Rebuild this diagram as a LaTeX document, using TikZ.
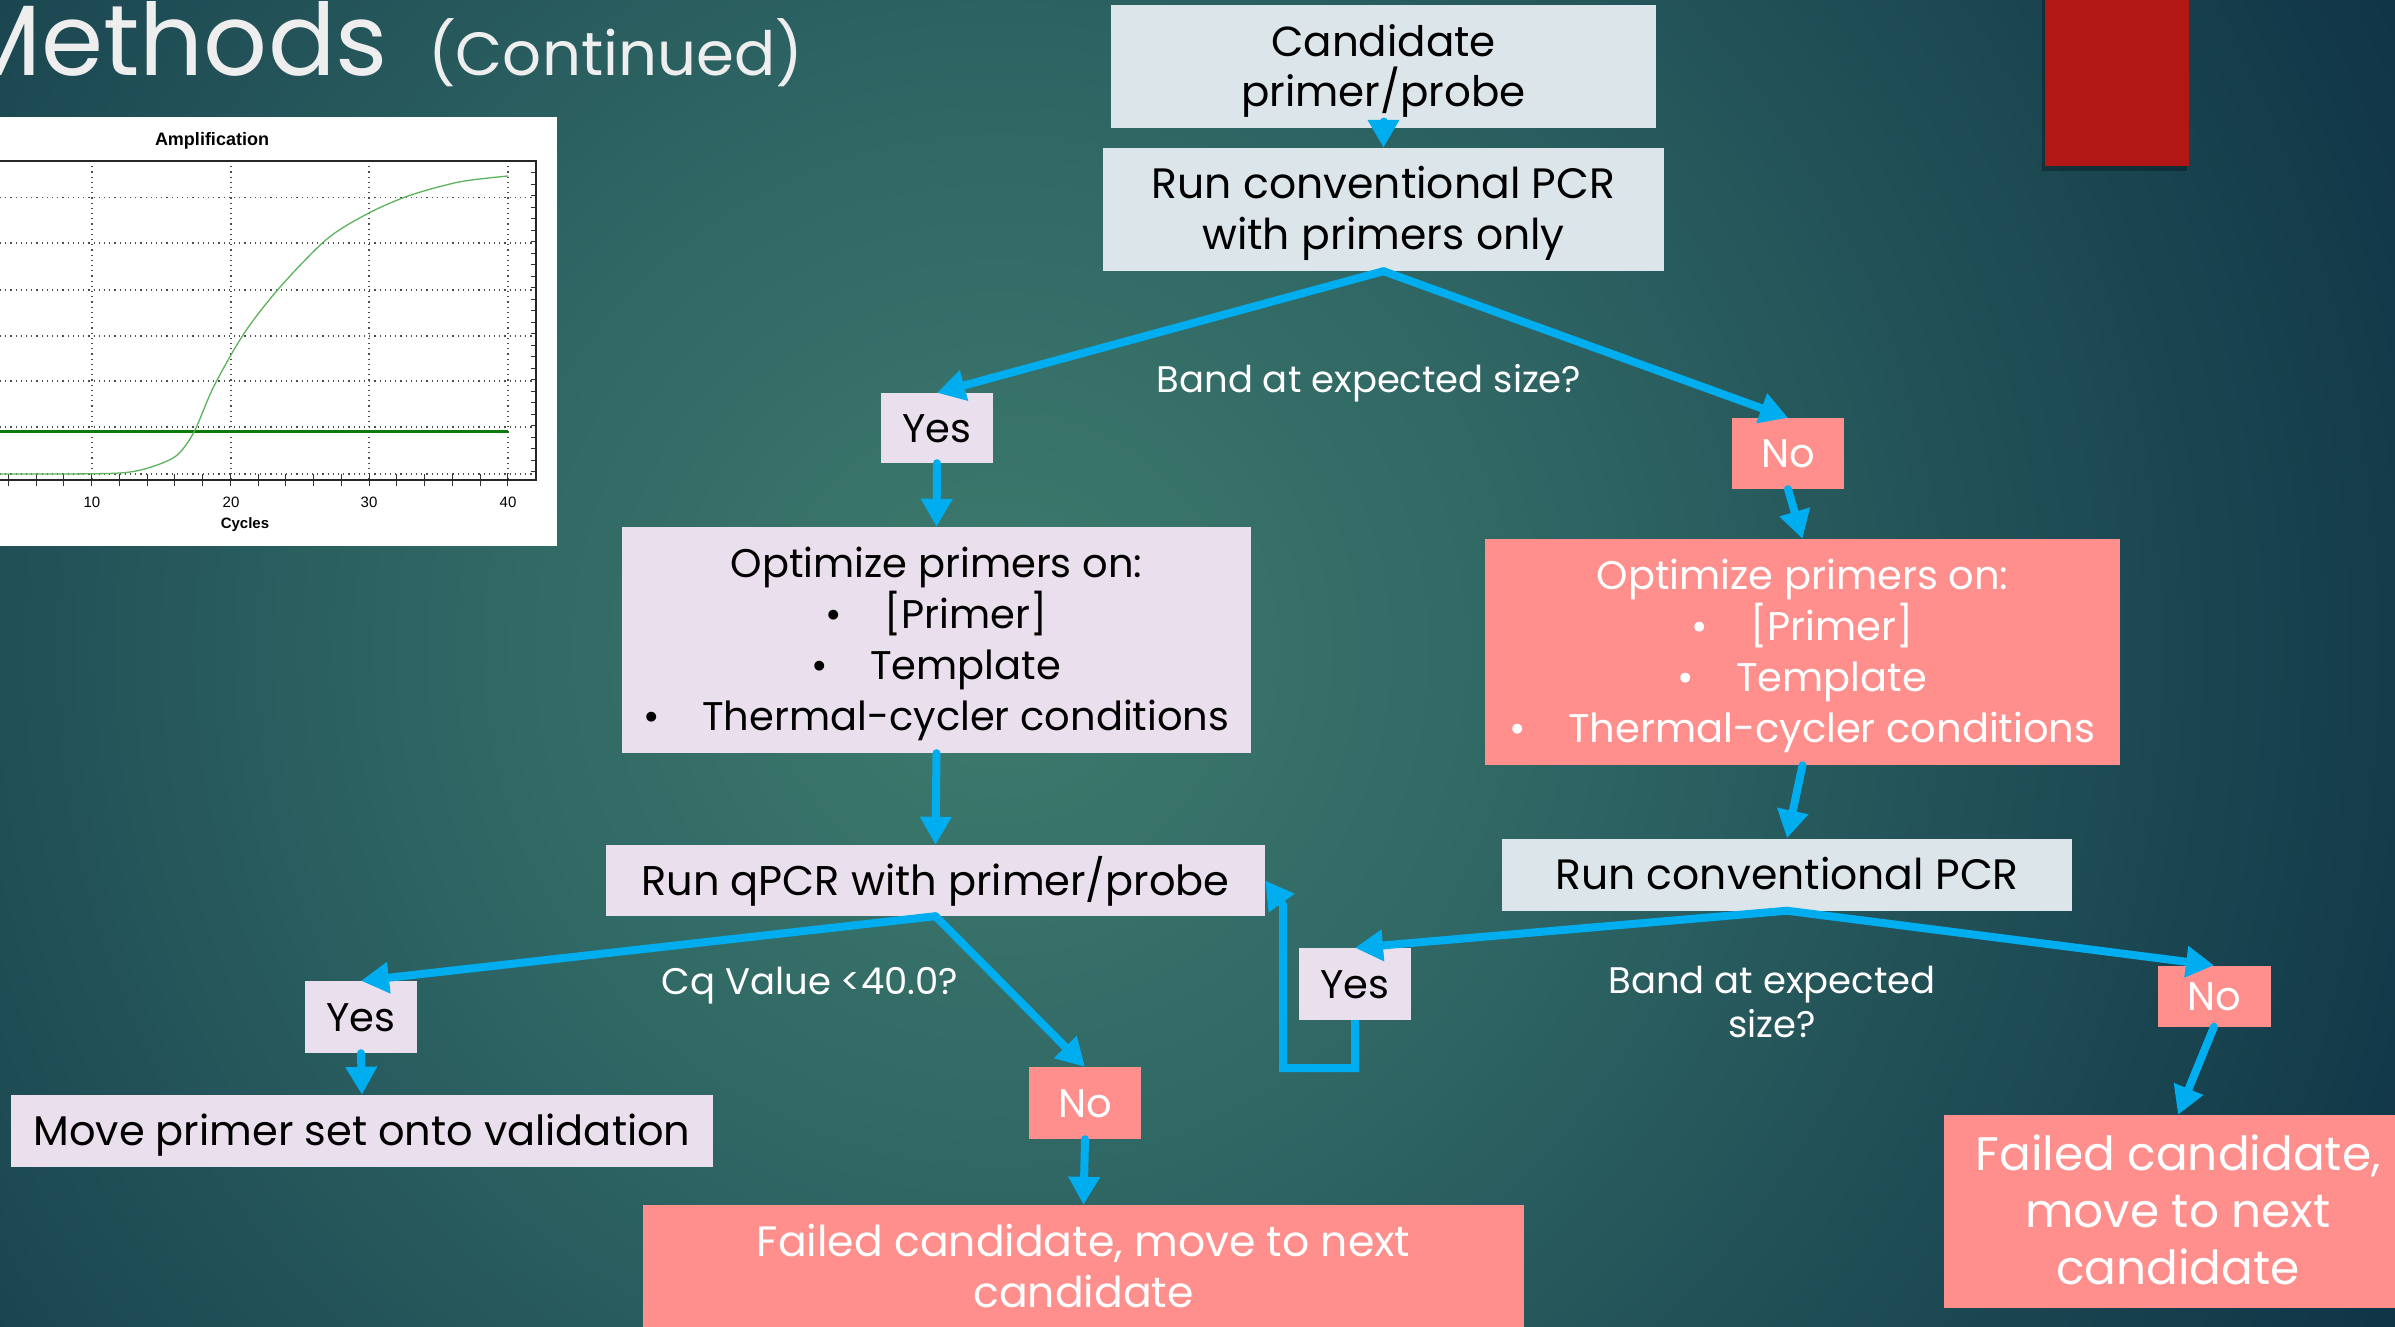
\documentclass[tikz,border=0pt]{standalone}
\usepackage{fontspec}
\setmainfont{Poppins}
\newfontfamily\arialfont{Liberation Sans}
\usetikzlibrary{arrows.meta,calc}
\definecolor{bgin}{HTML}{3E7B6D}
\definecolor{bgmid}{HTML}{2F6664}
\definecolor{bgout}{HTML}{0F3446}
\definecolor{arrowc}{HTML}{00AEEF}
\definecolor{lav}{HTML}{EADFEC}
\definecolor{gryb}{HTML}{DCE6EA}
\definecolor{salm}{HTML}{FF8F8C}
\definecolor{redbox}{HTML}{B11715}
\definecolor{titlec}{HTML}{EEEEEE}
\definecolor{thrgreen}{HTML}{0A7A0A}
\definecolor{curvegreen}{HTML}{5DB35D}
\pgfdeclareradialshading{bgshade}{\pgfpoint{0bp}{0bp}}{color(0bp)=(bgin); color(9bp)=(bgmid); color(25bp)=(bgout); color(50bp)=(bgout)}
\newcommand{\tp}{\rule{0pt}{1em}}
\newcommand{\bt}{\rule[-0.3em]{0pt}{0pt}}
\begin{document}
\begin{tikzpicture}[x=1pt,y=-1pt,
  box/.style={rectangle, inner sep=0pt, align=center, text=black},
  lavbox/.style={box, fill=lav},
  grybox/.style={box, fill=gryb},
  salbox/.style={box, fill=salm, text=white},
  fA/.style={font=\fontsize{40}{51}\selectfont},
  fB/.style={font=\fontsize{42.5}{51}\selectfont},
  fY/.style={font=\fontsize{40}{51}\selectfont},
  lbl/.style={text=white, align=center, inner sep=0pt, font=\fontsize{37}{44}\selectfont},
  arr/.style={draw=arrowc, line width=8pt, line cap=round, -{Triangle[length=28pt,width=30pt]}},
  ctick/.style={font=\arialfont\fontsize{15}{18}\selectfont, inner sep=0pt}
]
\useasboundingbox (0,0) rectangle (2395,1326);
\begin{scope}
\clip (0,0) rectangle (2395,1326);
\fill[bgout] (0,0) rectangle (2395,1326);
\shade[shading=bgshade] (1000,650) circle[radius=1550pt];

% title
\node[anchor=base east, text=titlec, inner sep=0pt, font=\fontsize{100}{110}\selectfont] (titleM) at (388,75) {Methods};
\node[anchor=base west, text=titlec, inner sep=0pt, font=\fontsize{61}{64}\selectfont] (titleC) at (428,75) {(Continued)};

% red rectangle
\fill[black, opacity=0.3] (2042,0) rectangle (2187,171);
\fill[redbox] (2045,0) rectangle (2189,166);

% chart
\fill[white] (0,117) rectangle (557,546);
\foreach \gy in {197.5,243,290,336,381,427,474}
  \draw[black!70, line width=1.2pt, dash pattern=on 1.2pt off 4pt] (0,\gy) -- (536,\gy);
\foreach \gx in {92,231,369,508}
  \draw[black!70, line width=1.2pt, dash pattern=on 1.2pt off 4pt] (\gx,161) -- (\gx,480);
\foreach \k in {0,...,20}
  \draw[black!80, line width=1pt] ({-47+27.74*\k},474) -- ({-47+27.74*\k},486);
\foreach \k in {0,...,27}
  \draw[black!80, line width=1pt] (531,{161+11.5*\k}) -- (536,{161+11.5*\k});
\draw[black!85, line width=1.3pt] (0,161) -- (536,161) -- (536,480) -- (0,480);
\draw[thrgreen, line width=3pt] (0,431) -- (508,431);
\draw[curvegreen, line width=1.3pt] plot[smooth, tension=0.5] coordinates {(0,474) (60,474) (120,473) (148,468) (176,456) (194,432) (214,386) (245,332) (281,286) (327,239) (367,214) (408,196) (459,182) (508,176)};
\node[ctick] (t10) at (92,502) {10};
\node[ctick] (t20) at (231,502) {20};
\node[ctick] (t30) at (369,502) {30};
\node[ctick] (t40) at (508,502) {40};
\node[ctick, font=\arialfont\bfseries\fontsize{15}{18}\selectfont] (cyc) at (245,525) {Cycles};
\node[ctick, font=\arialfont\bfseries\fontsize{18}{20}\selectfont] (amp) at (212,141) {Amplification};

% flowchart nodes
\node[grybox, minimum width=545pt, minimum height=123pt, font=\fontsize{42}{50}\selectfont] (cand) at (1383.5,66.5) {\tp Candidate\\primer/probe\bt};
\node[grybox, fB, minimum width=561pt, minimum height=123pt] (run1) at (1383.5,209.5) {\tp Run conventional PCR\\with primers only\bt};
\node[lavbox, fY, minimum width=112pt, minimum height=70pt] (yes1) at (937,428) {\tp Yes\bt};
\node[salbox, fY, minimum width=112pt, minimum height=71pt] (no1) at (1788,453.5) {\tp No\bt};
\node[lavbox, fA, minimum width=629pt, minimum height=226pt] (opt1) at (936.5,640) {\tp Optimize primers on:\\\textbullet\hspace{42pt}[Primer]\\\textbullet\hspace{42pt}Template\\\textbullet\hspace{42pt}Thermal-cycler conditions\bt};
\node[salbox, fA, minimum width=635pt, minimum height=226pt] (opt2) at (1802.5,652) {\tp Optimize primers on:\\\textbullet\hspace{42pt}[Primer]\\\textbullet\hspace{42pt}Template\\\textbullet\hspace{42pt}Thermal-cycler conditions\bt};
\node[lavbox, font=\fontsize{41.5}{51}\selectfont, minimum width=659pt, minimum height=71pt] (qpcr) at (935.5,880.5) {\tp Run qPCR with primer/probe\bt};
\node[grybox, fB, minimum width=570pt, minimum height=72pt] (run2) at (1787,874.5) {\tp Run conventional PCR\bt};
\node[lavbox, fY, minimum width=112pt, minimum height=72pt] (yes2) at (361,1017) {\tp Yes\bt};
\node[salbox, fY, minimum width=112pt, minimum height=72pt] (no2) at (1085,1103) {\tp No\bt};
\node[lavbox, font=\fontsize{41.5}{51}\selectfont, minimum width=702pt, minimum height=72pt] (move) at (362,1131) {\tp Move primer set onto validation\bt};
\node[salbox, fB, minimum width=881pt, minimum height=124pt] (fail) at (1083.5,1267) {\tp Failed candidate, move to next\\candidate\bt};
\node[lavbox, fY, minimum width=112pt, minimum height=72pt] (yes3) at (1355,984) {\tp Yes\bt};
\node[salbox, fY, minimum width=113pt, minimum height=61pt] (no3) at (2214,996) {\tp No\bt};
\node[salbox, minimum width=468pt, minimum height=193pt, font=\fontsize{47}{57}\selectfont] (failR) at (2178,1211.5) {\tp Failed candidate,\\move to next\\candidate\bt};

% labels
\node[lbl] (lab1) at (1369,383) {Band at expected size?};
\node[lbl] (lab2) at (810,986) {Cq Value <40.0?};
\node[lbl] (lab3) at (1772,1002) {Band at expected\\size?};

% connectors
\coordinate (loopc) at (1283,1068);
\coordinate (loopd) at (1283,905);
\draw[arr] (cand.south) -- (run1.north);
\draw[arr] (run1.south) -- (yes1.north);
\draw[arr] (run1.south) -- (no1.north);
\draw[arr] (yes1.south) -- (opt1.north);
\draw[arr] (no1.south) -- (opt2.north);
\draw[arr] (opt1.south) -- (qpcr.north);
\draw[arr] (opt2.south) -- (run2.north);
\draw[arr] (qpcr.south) -- (yes2.north);
\draw[arr] (qpcr.south) -- (no2.north);
\draw[arr] (yes2.south) -- (move.north);
\draw[arr] (no2.south) -- (fail.north);
\draw[arr] (run2.south) -- (yes3.north);
\draw[arr] (run2.south) -- (no3.north);
\draw[arr] (no3.south) -- (failR.north);
\draw[arr, line cap=butt] (yes3.south) |- (loopc) -- (loopd) -- (qpcr.east);
\end{scope}
\end{tikzpicture}
\end{document}
